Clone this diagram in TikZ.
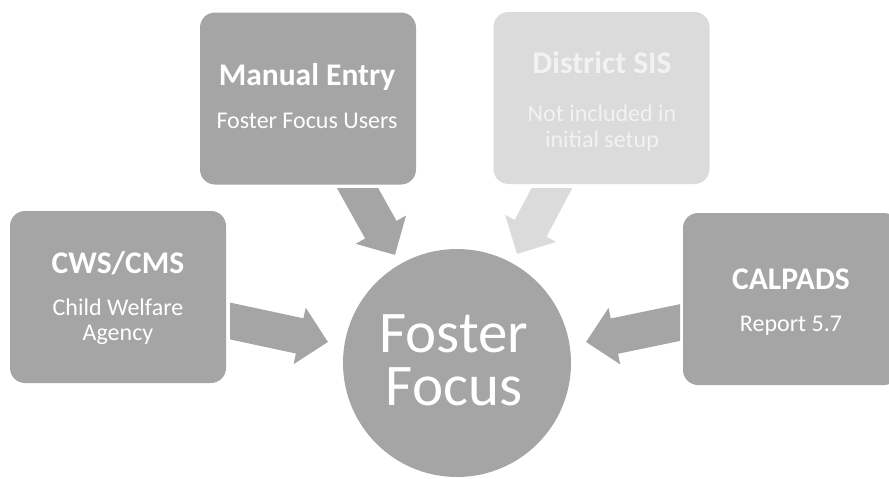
\documentclass[tikz,border=0pt]{standalone}
\usepackage{fontspec}
\setmainfont{Carlito}
\usetikzlibrary{arrows.meta}
\definecolor{boxgray}{RGB}{165,165,165}
\definecolor{lightgray}{RGB}{219,219,219}
\definecolor{lighttext}{RGB}{242,242,242}
\tikzset{
  srcbox/.style={draw=none, fill=boxgray, rounded corners=15pt, minimum width=216pt, minimum height=172pt, inner sep=0pt},
  titletext/.style={text=white, font=\fontsize{31.5}{34}\selectfont\bfseries, anchor=base, inner sep=0pt},
  subtext/.style={text=white, font=\fontsize{24}{26}\selectfont, anchor=base, inner sep=0pt},
  bigtext/.style={text=white, font=\fontsize{59}{53}\selectfont, align=center, anchor=base, inner sep=0pt},
  blockarrow/.style={draw=boxgray, line width=36pt, line cap=butt, -{Triangle[length=29pt, width=56pt]}},
}
\begin{document}
\begin{tikzpicture}[x=1pt, y=-1pt]
\useasboundingbox (0,0) rectangle (889,479);
\clip (0,0) rectangle (889,479);
% arrows
\coordinate (mtail) at (347.4,170); \coordinate (mtip) at (395,255);
\coordinate (dtail) at (561.5,170); \coordinate (dtip) at (517,254);
\coordinate (ctail) at (210,316.7); \coordinate (ctip) at (328,342);
\coordinate (ktail) at (700,318.4); \coordinate (ktip) at (586,342);
\begin{scope}
  \clip (300,188) rectangle (450,270);
  \draw[blockarrow] (mtail) -- (mtip);
\end{scope}
\begin{scope}
  \clip (480,188) rectangle (620,270);
  \draw[blockarrow, draw=lightgray] (dtail) -- (dtip);
\end{scope}
\begin{scope}
  \clip (230,280) rectangle (350,380);
  \draw[blockarrow] (ctail) -- (ctip);
\end{scope}
\begin{scope}
  \clip (560,280) rectangle (680,380);
  \draw[blockarrow] (ktail) -- (ktip);
\end{scope}
% boxes
\node[srcbox] (manual) at (308,98.5) {};
\node[srcbox, fill=lightgray] (district) at (601.5,98) {};
\node[srcbox] (cws) at (118,297) {};
\node[srcbox] (calpads) at (791,299) {};
% circle
\node[circle, fill=boxgray, minimum size=228pt, inner sep=0pt] (focus) at (457,363) {};
% texts
\node[titletext] (manualT) at (307,85) {Manual Entry};
\node[subtext] (manualS) at (307,128) {Foster Focus Users};
\node[titletext, text=lighttext] (districtT) at (602,73) {District SIS};
\node[subtext, text=lighttext] (districtS1) at (602,121) {Not included in};
\node[subtext, text=lighttext] (districtS2) at (602,147) {initial setup};
\node[titletext] (cwsT) at (118,273) {CWS/CMS};
\node[subtext] (cwsS1) at (118,315) {Child Welfare};
\node[subtext] (cwsS2) at (118,340) {Agency};
\node[titletext] (calpadsT) at (791,289) {CALPADS};
\node[subtext] (calpadsS) at (791,331) {Report 5.7};
\node[bigtext] (focusT) at (454,405) {Foster\\Focus};
\end{tikzpicture}
\end{document}
